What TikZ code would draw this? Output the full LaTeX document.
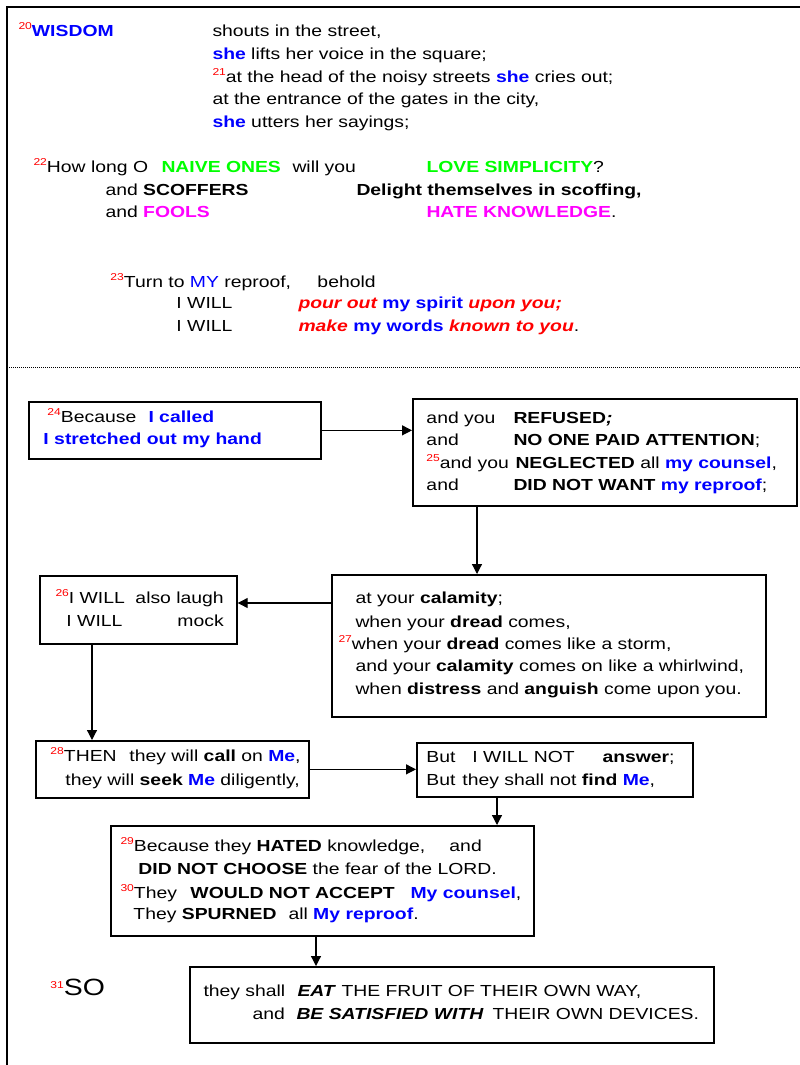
\documentclass[tikz,border=0pt]{standalone}
\usepackage{fontspec}
\setmainfont{Liberation Sans}[FakeStretch=1.21]
\usetikzlibrary{arrows.meta}
\definecolor{vblue}{RGB}{0,0,255}
\definecolor{vgreen}{RGB}{0,255,0}
\definecolor{vmag}{RGB}{255,0,255}
\definecolor{vred}{RGB}{255,0,0}
\newcommand\Sg[2]{\rlap{\hspace*{#1pt}#2}}
\newcommand\Vs[1]{\raisebox{7pt}{\fontsize{10}{10}\selectfont\color{vred}#1}}
\newcommand\Bb[1]{{\bfseries\color{vblue}#1}}
\newcommand\Bd[1]{{\bfseries #1}}
\newcommand\Gr[1]{{\bfseries\color{vgreen}#1}}
\newcommand\Mg[1]{{\bfseries\color{vmag}#1}}
\newcommand\Rbi[1]{{\bfseries\itshape\color{vred}#1}}
\newcommand\Bi[1]{{\bfseries\itshape #1}}
\begin{document}
\begin{tikzpicture}[x=1pt,y=-1pt,
 txt/.style={anchor=base west,inner sep=0pt,outer sep=0pt,font=\fontsize{16}{19}\selectfont},
 box/.style={draw=black,line width=1.7pt,anchor=north west,inner sep=0pt},
 arr/.style={line width=1.2pt,-{Triangle[length=10pt,width=10pt]}},
 frame/.style={line width=1.4pt}]
\useasboundingbox (0,0) rectangle (800,1065);
\draw[frame] (800,7) -- (7,7) -- (7,1065);
\draw[line width=1pt,dash pattern=on 1pt off 1pt] (7,367) -- (800,367);

% top section
\node[txt] (w1) at (0,37) {\Sg{18}{\Vs{20}\Bb{WISDOM}}\Sg{212}{shouts in the street,}};
\node[txt] (w2) at (0,59.5) {\Sg{212}{\Bb{she} lifts her voice in the square;}};
\node[txt] (w3) at (0,82) {\Sg{212}{\Vs{21}at the head of the noisy streets \Bb{she} cries out;}};
\node[txt] (w4) at (0,104.5) {\Sg{212}{at the entrance of the gates in the city,}};
\node[txt] (w5) at (0,127) {\Sg{212}{\Bb{she} utters her sayings;}};

\node[txt] (n1) at (0,172.5) {\Sg{33}{\Vs{22}How long O}\Sg{161}{\Gr{NAIVE ONES}}\Sg{292}{will you}\Sg{426}{\Gr{LOVE SIMPLICITY}?}};
\node[txt] (n2) at (0,195.5) {\Sg{105}{and \Bd{SCOFFERS}}\Sg{356}{\Bd{Delight themselves in scoffing,}}};
\node[txt] (n3) at (0,217.5) {\Sg{105}{and \Mg{FOOLS}}\Sg{426}{\Mg{HATE KNOWLEDGE}.}};

\node[txt] (r1) at (0,287.5) {\Sg{110}{\Vs{23}Turn to {\color{vblue}MY} reproof,}\Sg{317}{behold}};
\node[txt] (r2) at (0,308.5) {\Sg{176}{I WILL}\Sg{298}{\Rbi{pour out} \Bb{my spirit} \Rbi{upon you;}}};
\node[txt] (r3) at (0,331.5) {\Sg{176}{I WILL}\Sg{298}{\Rbi{make} \Bb{my words} \Rbi{known to you}.}};

% boxes
\node[box,minimum width=292pt,minimum height=57pt] (A) at (28,401) {};
\node[box,minimum width=384pt,minimum height=107pt] (B) at (412,398) {};
\node[box,minimum width=434pt,minimum height=142pt] (C) at (331,574) {};
\node[box,minimum width=197pt,minimum height=68pt] (D) at (39,575) {};
\node[box,minimum width=273pt,minimum height=57pt] (E) at (35,740) {};
\node[box,minimum width=276pt,minimum height=54pt] (F) at (416,742) {};
\node[box,minimum width=423pt,minimum height=110pt] (G) at (110,825) {};
\node[box,minimum width=524pt,minimum height=76pt] (H) at (189,966) {};

% box texts
\node[txt] (a1) at (0,422) {\Sg{47}{\Vs{24}Because}\Sg{148}{\Bb{I called}}};
\node[txt] (a2) at (0,444) {\Sg{43}{\Bb{I stretched out my hand}}};

\node[txt] (b1) at (0,423) {\Sg{426}{and you}\Sg{513}{\Bd{REFUSED\textit{;}}}};
\node[txt] (b2) at (0,445) {\Sg{426}{and}\Sg{513}{\Bd{NO ONE PAID ATTENTION};}};
\node[txt] (b3) at (0,468) {\Sg{426}{\Vs{25}and you}\Sg{515}{\Bd{NEGLECTED} all \Bb{my counsel},}};
\node[txt] (b4) at (0,490) {\Sg{426}{and}\Sg{513}{\Bd{DID NOT WANT} \Bb{my reproof};}};

\node[txt] (c1) at (0,603) {\Sg{355}{at your \Bd{calamity};}};
\node[txt] (c2) at (0,627) {\Sg{355}{when your \Bd{dread} comes,}};
\node[txt] (c3) at (0,649) {\Sg{338}{\Vs{27}when your \Bd{dread} comes like a storm,}};
\node[txt] (c4) at (0,671) {\Sg{355}{and your \Bd{calamity} comes on like a whirlwind,}};
\node[txt] (c5) at (0,694) {\Sg{355}{when \Bd{distress} and \Bd{anguish} come upon you.}};

\node[txt] (d1) at (0,603) {\Sg{55}{\Vs{26}I WILL}\Sg{135}{also laugh}};
\node[txt] (d2) at (0,626) {\Sg{66}{I WILL}\Sg{177}{mock}};

\node[txt] (e1) at (0,761) {\Sg{50}{\Vs{28}THEN}\Sg{129}{they will \Bd{call} on \Bb{Me},}};
\node[txt] (e2) at (0,785) {\Sg{65}{they will \Bd{seek} \Bb{Me} diligently,}};

\node[txt] (f1) at (0,762) {\Sg{426}{But}\Sg{472}{I WILL NOT}\Sg{602}{\Bd{answer};}};
\node[txt] (f2) at (0,785) {\Sg{426}{But}\Sg{462}{they shall not \Bd{find} \Bb{Me},}};

\node[txt] (g1) at (0,851) {\Sg{120}{\Vs{29}Because they \Bd{HATED} knowledge,}\Sg{449}{and}};
\node[txt] (g2) at (0,874) {\Sg{138}{\Bd{DID NOT CHOOSE} the fear of the LORD.}};
\node[txt] (g3) at (0,898) {\Sg{120}{\Vs{30}They}\Sg{190}{\Bd{WOULD NOT ACCEPT}}\Sg{410}{\Bb{My counsel},}};
\node[txt] (g4) at (0,919) {\Sg{133}{They \Bd{SPURNED}}\Sg{288}{all \Bb{My reproof}.}};

\node[txt] (h1) at (0,996) {\Sg{203}{they shall}\Sg{297}{\Bi{EAT}}\Sg{341}{THE FRUIT OF THEIR OWN WAY,}};
\node[txt] (h2) at (0,1019) {\Sg{252}{and}\Sg{296}{\Bi{BE SATISFIED WITH}}\Sg{492}{THEIR OWN DEVICES.}};

\node[txt] (so) at (0,995) {\Sg{50}{\raisebox{7pt}{\fontsize{10}{10}\selectfont\color{vred}31}\fontsize{23.5}{27}\selectfont SO}};

% connectors
\draw[arr] (A.east) -- (A.east -| B.west);
\draw[arr] ([xshift=65pt]B.south west) -- ([xshift=65pt]B.south west |- C.north);
\draw[arr] ([yshift=-29pt]C.north west) -- ([yshift=-29pt]C.north west -| D.east);
\draw[arr] ([xshift=53pt]D.south west) -- ([xshift=53pt]D.south west |- E.north);
\draw[arr] (E.east) -- (E.east -| F.west);
\draw[arr] ([xshift=81pt]F.south west) -- ([xshift=81pt]F.south west |- G.north);
\draw[arr] ([xshift=206pt]G.south west) -- ([xshift=206pt]G.south west |- H.north);
\end{tikzpicture}
\end{document}
